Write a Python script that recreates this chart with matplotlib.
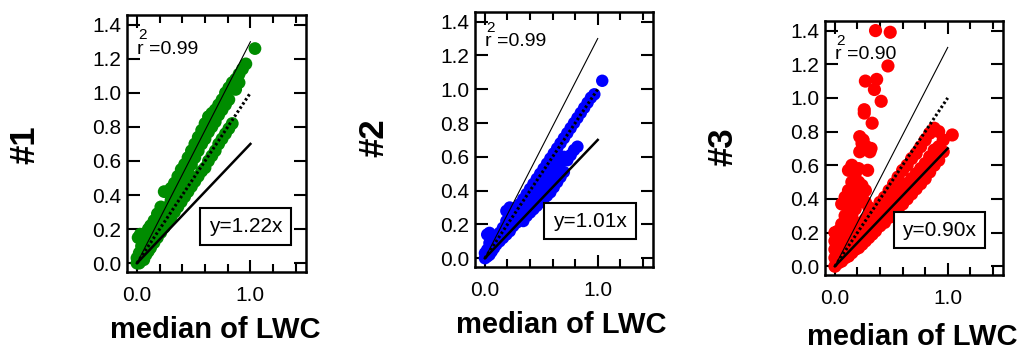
import matplotlib
matplotlib.use("Agg")
import matplotlib.pyplot as plt
from matplotlib.ticker import MultipleLocator, FixedLocator

plt.rcParams['font.family'] = ['Liberation Sans', 'DejaVu Sans']

# ---------------- data ----------------
panel_labels = ["#1", "#2", "#3"]
colors = ["#008c00", "#0000ff", "#ff0000"]
r2_texts = ["=0.99", "=0.99", "=0.90"]
fit_texts = ["y=1.22x", "y=1.01x", "y=0.90x"]
xlabel = "median of LWC"
ytick_vals = [0.0, 0.2, 0.4, 0.6, 0.8, 1.0, 1.2, 1.4]
xtick_vals = [0.0, 1.0]
ref_x = [0.0, 1.0]
ref_hi = [0.0, 1.3]
ref_one = [0.0, 1.0]
ref_lo = [0.0, 0.7]

g_x = [0.00, 0.00, 0.01, 0.02, 0.02, 0.03, 0.04, 0.04, 0.06, 0.06, 0.06, 0.08, 0.08,
       0.10, 0.10, 0.10, 0.12, 0.12, 0.12, 0.15, 0.15, 0.15, 0.18, 0.18, 0.18,
       0.21, 0.21, 0.21, 0.24, 0.24, 0.24, 0.27, 0.27, 0.27, 0.30, 0.30, 0.30,
       0.33, 0.33, 0.33, 0.36, 0.36, 0.36, 0.39, 0.39, 0.39, 0.42, 0.42, 0.42,
       0.45, 0.45, 0.45, 0.48, 0.48, 0.48, 0.51, 0.51, 0.51, 0.54, 0.54, 0.54,
       0.57, 0.57, 0.57, 0.60, 0.60, 0.60, 0.63, 0.63, 0.63, 0.66, 0.66, 0.66,
       0.69, 0.69, 0.69, 0.72, 0.72, 0.72, 0.75, 0.75, 0.75, 0.78, 0.78, 0.78,
       0.81, 0.81, 0.81, 0.84, 0.84, 0.87, 0.87, 0.90, 0.90, 0.93, 0.96, 1.04]
g_y = [0.00, 0.03, 0.15, 0.06, 0.00, 0.17, 0.10, 0.03, 0.16, 0.08, 0.02, 0.17, 0.05,
       0.20, 0.12, 0.07, 0.22, 0.15, 0.09, 0.25, 0.18, 0.12, 0.29, 0.22, 0.15,
       0.33, 0.25, 0.18, 0.42, 0.30, 0.21, 0.42, 0.33, 0.24, 0.44, 0.37, 0.27,
       0.47, 0.40, 0.30, 0.51, 0.43, 0.33, 0.55, 0.47, 0.36, 0.58, 0.50, 0.39,
       0.62, 0.54, 0.42, 0.66, 0.58, 0.45, 0.70, 0.62, 0.48, 0.74, 0.66, 0.51,
       0.78, 0.70, 0.54, 0.82, 0.73, 0.56, 0.86, 0.77, 0.60, 0.88, 0.80, 0.63,
       0.90, 0.83, 0.66, 0.93, 0.87, 0.70, 0.96, 0.90, 0.73, 1.00, 0.93, 0.76,
       1.03, 0.96, 0.79, 1.06, 0.82, 1.08, 1.02, 1.11, 1.06, 1.14, 1.17, 1.26]

b_x = [0.00, 0.00, 0.02, 0.02, 0.02, 0.04, 0.04, 0.04, 0.06, 0.06, 0.08, 0.08,
       0.10, 0.10, 0.13, 0.13, 0.16, 0.16, 0.19, 0.19, 0.19, 0.22, 0.22, 0.22,
       0.25, 0.25, 0.28, 0.28, 0.31, 0.31, 0.34, 0.34, 0.34, 0.37, 0.37, 0.37,
       0.40, 0.40, 0.40, 0.43, 0.43, 0.43, 0.46, 0.46, 0.46, 0.49, 0.49, 0.49,
       0.52, 0.52, 0.52, 0.55, 0.55, 0.55, 0.58, 0.58, 0.58, 0.61, 0.61, 0.61,
       0.64, 0.64, 0.64, 0.67, 0.67, 0.67, 0.70, 0.70, 0.70, 0.73, 0.73, 0.76, 0.76,
       0.79, 0.79, 0.82, 0.82, 0.85, 0.88, 0.91, 0.94, 0.97, 1.04]
b_y = [0.00, 0.03, 0.05, 0.14, 0.01, 0.09, 0.15, 0.02, 0.12, 0.04, 0.10, 0.06,
       0.12, 0.08, 0.15, 0.10, 0.18, 0.12, 0.22, 0.28, 0.14, 0.25, 0.30, 0.16,
       0.27, 0.19, 0.30, 0.21, 0.32, 0.23, 0.35, 0.27, 0.22, 0.38, 0.30, 0.25,
       0.41, 0.33, 0.27, 0.44, 0.36, 0.29, 0.47, 0.38, 0.31, 0.50, 0.41, 0.33,
       0.53, 0.44, 0.35, 0.56, 0.47, 0.37, 0.59, 0.50, 0.39, 0.62, 0.52, 0.42,
       0.65, 0.55, 0.45, 0.68, 0.57, 0.48, 0.71, 0.60, 0.51, 0.74, 0.58, 0.77, 0.61,
       0.80, 0.64, 0.83, 0.66, 0.86, 0.89, 0.92, 0.95, 0.97, 1.05]

r_x = [0.00, 0.00, 0.00, 0.00, 0.00, 0.03, 0.03, 0.03, 0.03,
       0.06, 0.06, 0.06, 0.06, 0.06, 0.06, 0.09, 0.09, 0.09, 0.09, 0.09, 0.09,
       0.12, 0.12, 0.12, 0.12, 0.12, 0.12, 0.12, 0.15, 0.15, 0.15, 0.15, 0.15, 0.15, 0.15,
       0.18, 0.18, 0.18, 0.18, 0.18, 0.18, 0.21, 0.21, 0.21, 0.21, 0.21, 0.21,
       0.24, 0.24, 0.24, 0.24, 0.24, 0.27, 0.27, 0.27, 0.27, 0.27,
       0.30, 0.30, 0.30, 0.30, 0.33, 0.33, 0.33, 0.36, 0.36, 0.36,
       0.40, 0.40, 0.40, 0.44, 0.44, 0.44, 0.48, 0.48, 0.48, 0.52, 0.52, 0.52,
       0.56, 0.56, 0.56, 0.60, 0.60, 0.60, 0.64, 0.64, 0.64, 0.68, 0.68, 0.68,
       0.72, 0.72, 0.72, 0.76, 0.76, 0.76, 0.80, 0.80, 0.80, 0.84, 0.84, 0.84,
       0.88, 0.88, 0.88, 0.92, 0.92, 0.92, 0.96, 0.96, 1.04,
       0.36, 0.49, 0.47, 0.27, 0.37, 0.35, 0.41, 0.26, 0.26, 0.33, 0.22, 0.24,
       0.28, 0.22, 0.32, 0.29, 0.31, 0.25]
r_y = [0.00, 0.05, 0.10, 0.15, 0.20, 0.02, 0.08, 0.14, 0.21,
       0.03, 0.07, 0.12, 0.18, 0.25, 0.37, 0.05, 0.09, 0.15, 0.22, 0.30, 0.41,
       0.06, 0.11, 0.17, 0.26, 0.35, 0.45, 0.57, 0.08, 0.14, 0.20, 0.30, 0.40, 0.50, 0.60,
       0.10, 0.16, 0.22, 0.34, 0.46, 0.55, 0.11, 0.18, 0.24, 0.38, 0.50, 0.58,
       0.13, 0.20, 0.26, 0.42, 0.48, 0.15, 0.22, 0.28, 0.38, 0.45,
       0.17, 0.24, 0.30, 0.35, 0.19, 0.26, 0.32, 0.21, 0.28, 0.34,
       0.24, 0.31, 0.38, 0.26, 0.34, 0.41, 0.29, 0.37, 0.45, 0.31, 0.40, 0.49,
       0.34, 0.43, 0.53, 0.37, 0.46, 0.57, 0.40, 0.49, 0.60, 0.43, 0.52, 0.64,
       0.46, 0.55, 0.67, 0.49, 0.58, 0.71, 0.52, 0.61, 0.75, 0.56, 0.65, 0.79,
       0.60, 0.69, 0.82, 0.63, 0.71, 0.80, 0.68, 0.75, 0.78,
       1.40, 1.39, 1.19, 1.10, 1.11, 1.05, 0.98, 0.93, 0.91, 0.85, 0.77, 0.73,
       0.71, 0.68, 0.70, 0.57, 0.68, 0.75]

series_x = [g_x, b_x, r_x]
series_y = [g_y, b_y, r_y]

# ---------------- layout (pixels) ----------------
W, H = 1021, 358
axes_px = [(127, 306, 15, 272), (475, 653, 12, 267), (825, 1003, 21, 275)]
label_px = [(25, 145), (374, 138), (723, 147)]
xlabel_px = [(215, 330), (561, 325), (912, 337)]
box_pos = [(0.955, 0.215), (0.93, 0.22), (0.925, 0.214)]
r_pos = [(0.0, 1.23), (0.0, 1.255), (0.0, 1.23)]
marker_sizes = [85, 80, 90]

fig = plt.figure(figsize=(W / 100, H / 100), dpi=100)

for i in range(3):
    l, r, t, b = axes_px[i]
    ax = fig.add_axes([l / W, 1 - b / H, (r - l) / W, (b - t) / H])
    ax.scatter(series_x[i], series_y[i], s=marker_sizes[i], color=colors[i],
               edgecolors='none', zorder=2)
    ax.plot(ref_x, ref_hi, color='black', lw=0.8, zorder=3)
    ax.plot(ref_x, ref_one, color='black', lw=2.2, linestyle=(0, (0.8, 0.8)), zorder=3)
    ax.plot(ref_x, ref_lo, color='black', lw=1.8, zorder=3)
    ax.set_xlim(-0.088, 1.49)
    ax.set_ylim(-0.052, 1.457)
    ax.yaxis.set_major_locator(FixedLocator(ytick_vals))
    ax.set_yticklabels([f"{v:.1f}" for v in ytick_vals])
    ax.xaxis.set_major_locator(FixedLocator(xtick_vals))
    ax.set_xticklabels([f"{v:.1f}" for v in xtick_vals])
    ax.xaxis.set_minor_locator(MultipleLocator(0.2))
    ax.tick_params(which='both', direction='in', top=True, right=True, width=1.5,
                   labelsize=15, colors='black')
    ax.tick_params(which='major', length=9)
    ax.tick_params(which='minor', length=6)
    ax.tick_params(axis='x', pad=10)
    ax.tick_params(axis='y', pad=4)
    for sp in ax.spines.values():
        sp.set_linewidth(1.8)
    rx, ry = r_pos[i]
    ax.text(rx, ry, "r " + r2_texts[i], fontsize=14, ha='left', va='baseline')
    ax.text(rx + 0.012, ry + 0.085, "2", fontsize=11, ha='left', va='baseline')
    bx, by = box_pos[i]
    ax.text(bx, by, fit_texts[i], fontsize=15, ha='center', va='center', zorder=5,
            bbox=dict(boxstyle='square,pad=0.42', fc='white', ec='black', lw=1.5))
    lx, ly = label_px[i]
    fig.text(lx / W, 1 - ly / H, panel_labels[i], rotation=90, fontsize=25,
             fontweight='bold', ha='center', va='center')
    xx, xy = xlabel_px[i]
    fig.text(xx / W, 1 - xy / H, xlabel, fontsize=21, fontweight='bold',
             ha='center', va='center')

fig.savefig("out.png", dpi=100)
